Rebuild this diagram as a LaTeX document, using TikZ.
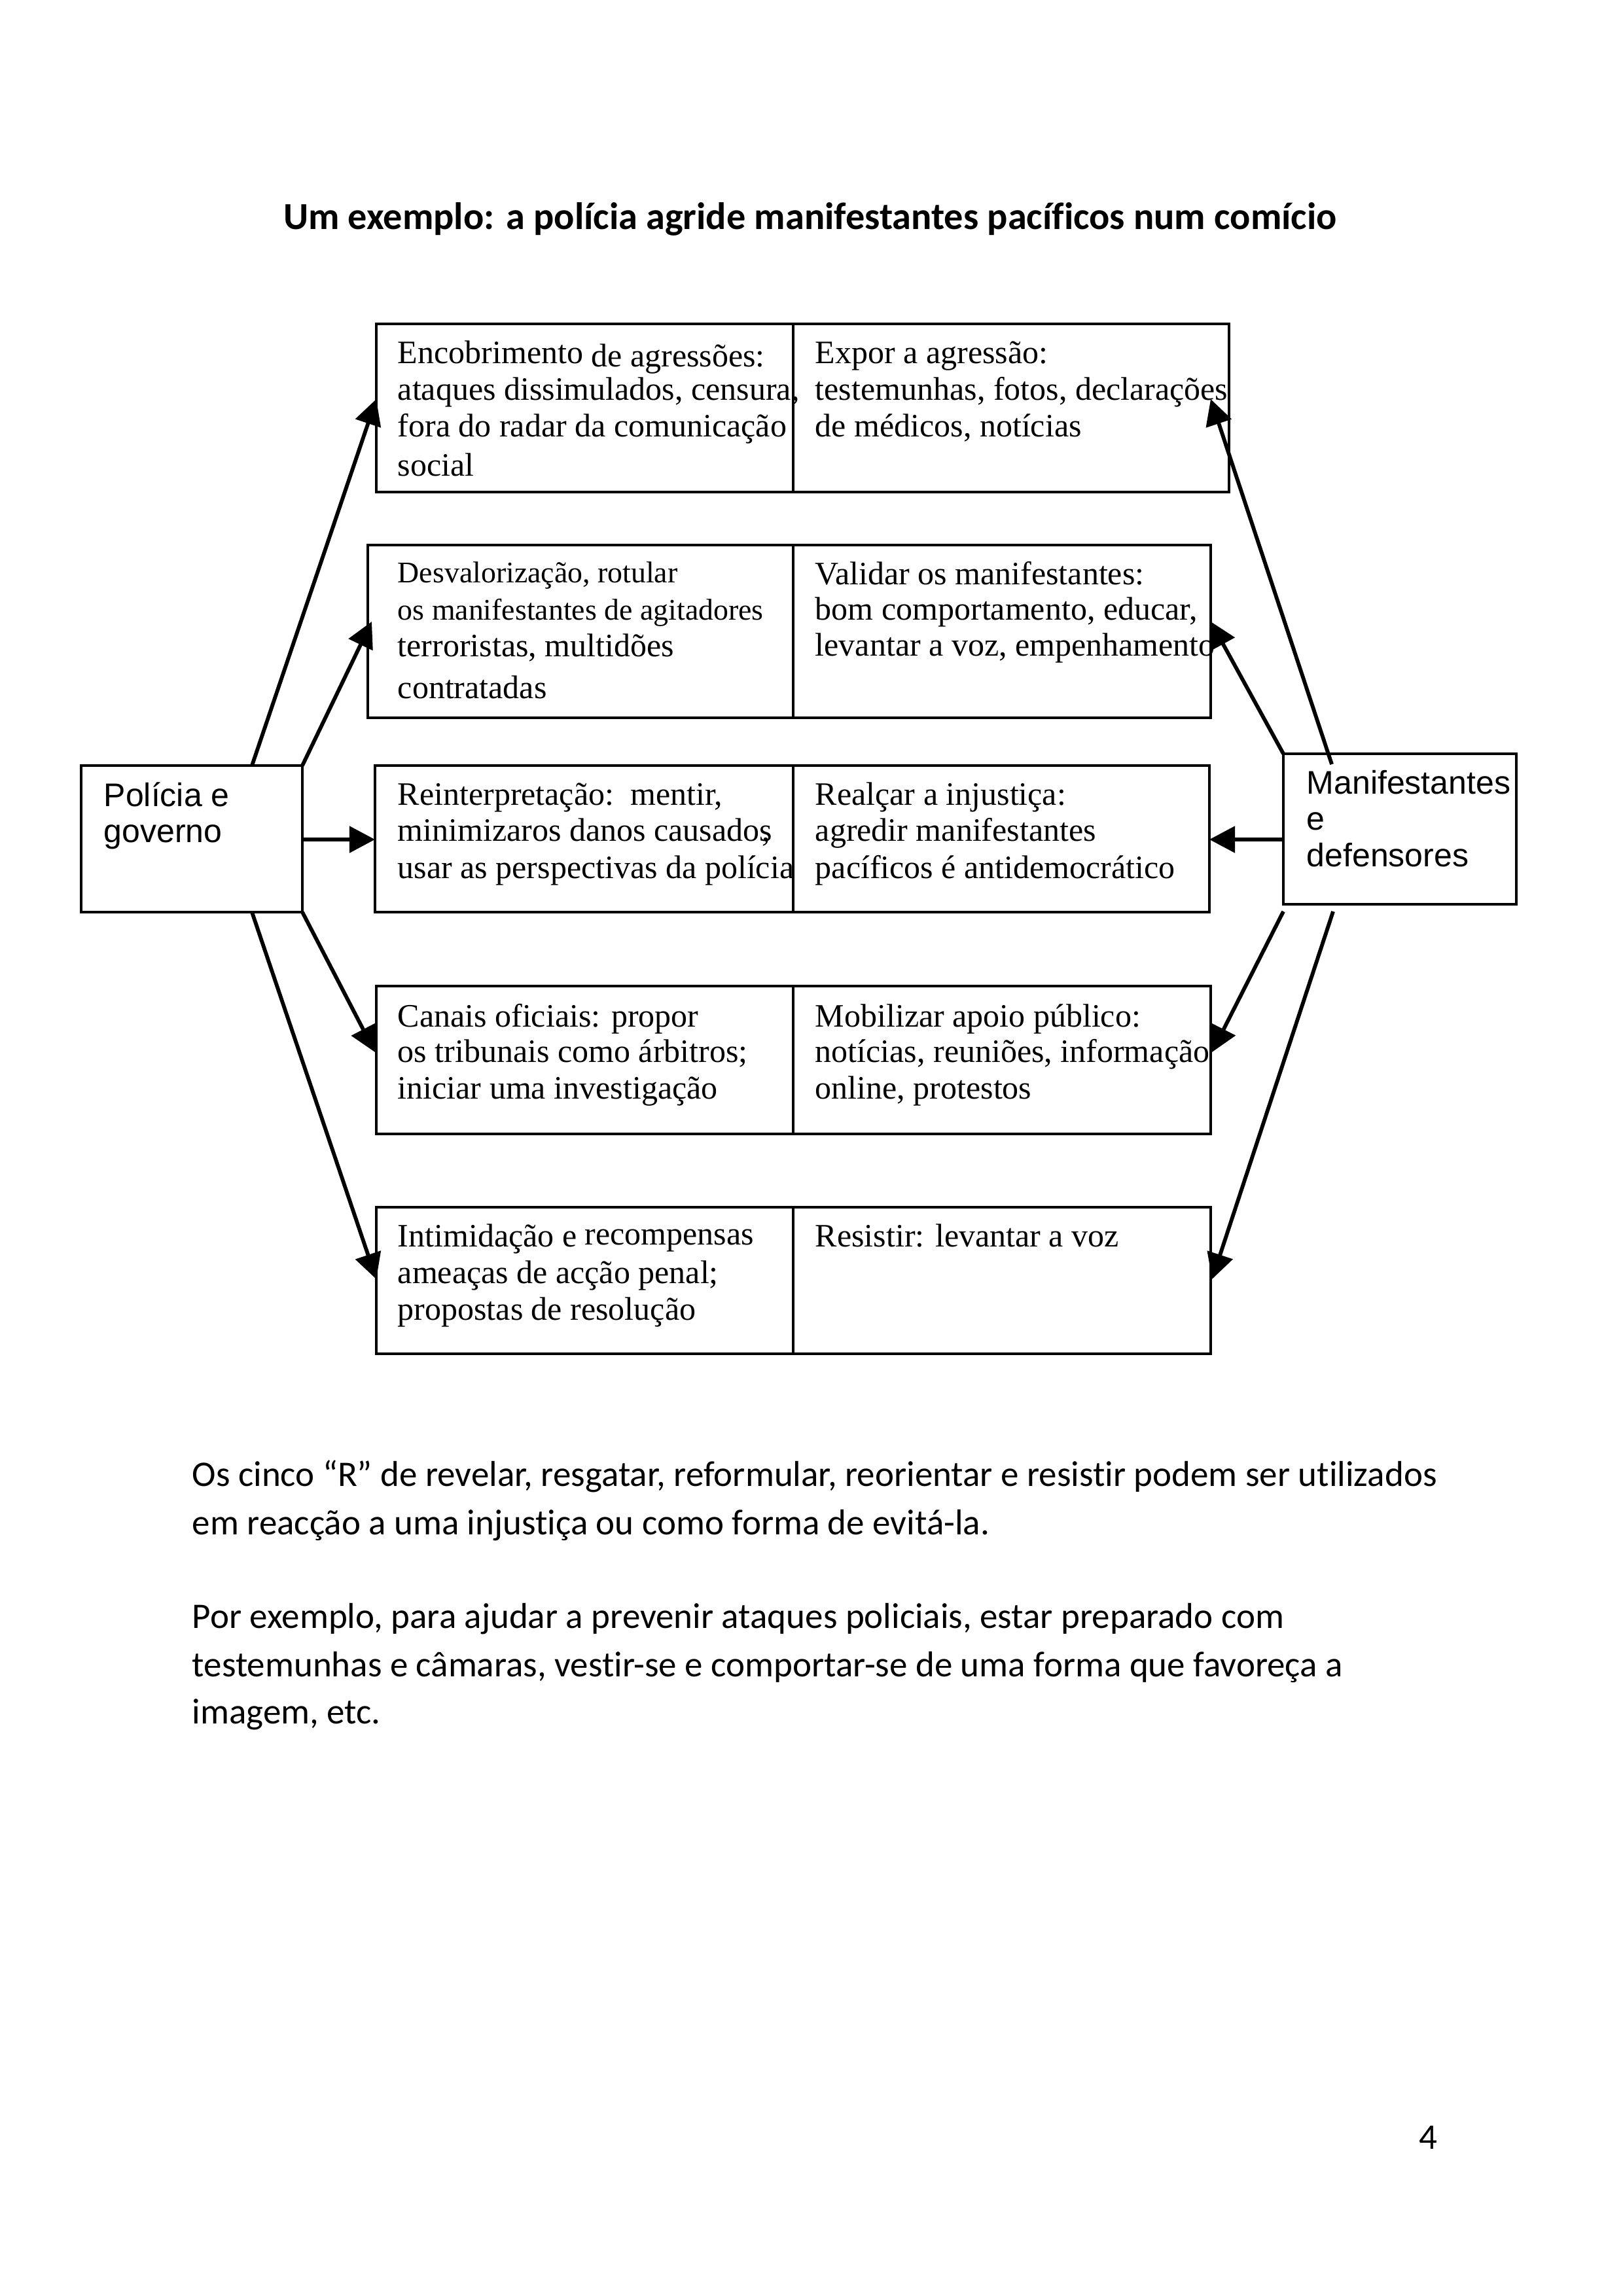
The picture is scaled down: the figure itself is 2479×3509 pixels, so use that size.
\documentclass[tikz,border=0pt]{standalone}
\usepackage{fontspec}
\setmainfont{Liberation Serif}
\newfontfamily\calfont[Ligatures=NoCommon]{Carlito}
\newfontfamily\arialfont{Liberation Sans}
\usetikzlibrary{arrows.meta,fit}
\begin{document}
\begin{tikzpicture}[x=0.24pt,y=-0.24pt,
 boxst/.style={draw,line width=1pt,inner sep=0pt},
 divline/.style={line width=0.8pt},
 arr/.style={line width=1.4pt,-{Triangle[length=9.4pt,width=9.6pt]}},
 txt/.style={anchor=base west,inner sep=0pt,font=\fontsize{12}{14}\selectfont},
 stxt/.style={anchor=base west,inner sep=0pt,font=\fontsize{11}{13}\selectfont},
 lab/.style={anchor=base west,inner sep=0pt,font=\arialfont\fontsize{12}{14}\selectfont},
 body/.style={anchor=base west,inner sep=0pt,font=\calfont\fontsize{13.2}{15}\selectfont},
 ttl/.style={anchor=base,inner sep=0pt,font=\calfont\bfseries\fontsize{14}{16}\selectfont}]
\useasboundingbox[fill=white] (0,0) rectangle (2479,3509);

% title
\node[ttl] (title) at (1238,351) {Um exemplo: a polícia agride manifestantes pacíficos num comício};

% side boxes
\node[boxst,fit={(124,1170) (462,1394)}] (pg) {};
\node[boxst,fit={(1961,1152) (2317,1382)}] (md) {};
\node[lab] (pg1) at (158,1232) {Polícia e};
\node[lab] (pg2) at (158,1287) {governo};
\node[lab] (md1) at (1996,1213) {Manifestantes};
\node[lab] (md2) at (1996,1268) {e};
\node[lab] (md3) at (1996,1324) {defensores};

% row boxes
\node[boxst,fit={(575,495) (1878,752)}] (r1) {};
\node[boxst,fit={(562,833) (1850,1097)}] (r2) {};
\node[boxst,fit={(573,1170) (1848,1394)}] (r3) {};
\node[boxst,fit={(575,1507) (1850,1733)}] (r4) {};
\node[boxst,fit={(575,1845) (1850,2069)}] (r5) {};
\draw[divline] (1212,495) -- (1212,752);
\draw[divline] (1212,833) -- (1212,1097);
\draw[divline] (1212,1170) -- (1212,1394);
\draw[divline] (1212,1507) -- (1212,1733);
\draw[divline] (1212,1845) -- (1212,2069);

% row 1
\node[txt] (a11) at (607,556) {Encobrimento \raisebox{-1pt}{de agressões:}};
\node[txt] (a12) at (607,612) {ataques dissimulados, censura,};
\node[txt] (a13) at (607,668) {fora do radar da comunicação};
\node[txt] (a14) at (607,728) {social};
\node[txt] (b11) at (1245,556) {Expor a agressão:};
\node[txt] (b12) at (1245,612) {testemunhas, fotos, declarações};
\node[txt] (b13) at (1245,668) {de médicos, notícias};
% row 2
\node[stxt] (a21) at (607,890) {Desvalorização, rotular};
\node[stxt] (a22) at (607,947) {os manifestantes de agitadores};
\node[txt] (a23) at (607,1003) {terroristas, multidões};
\node[txt] (a24) at (607,1067) {contratadas};
\node[txt] (b21) at (1245,893) {Validar os manifestantes:};
\node[txt] (b22) at (1245,947) {bom comportamento, educar,};
\node[txt] (b23) at (1245,1002) {levantar a voz, empenhamento};
% row 3
\node[txt] (a31) at (607,1230) {Reinterpretação:\ \ mentir,};
\node[txt] (a32) at (607,1285) {minimizaros danos causados\kern-0.3em,};
\node[txt] (a33) at (607,1342) {usar as perspectivas da polícia};
\node[txt] (b31) at (1245,1230) {Realçar a injustiça:};
\node[txt] (b32) at (1245,1285) {agredir manifestantes};
\node[txt] (b33) at (1245,1342) {pacíficos é antidemocrático};
% row 4
\node[txt] (a41) at (607,1569) {Canais oficiais: propor};
\node[txt] (a42) at (607,1623) {os tribunais como árbitros;};
\node[txt] (a43) at (607,1679) {iniciar uma investigação};
\node[txt] (b41) at (1245,1569) {Mobilizar apoio público:};
\node[txt] (b42) at (1245,1623) {notícias, reuniões, informação};
\node[txt] (b43) at (1245,1679) {online, protestos};
% row 5
\node[txt] (a51) at (607,1905) {Intimidação e \raisebox{0.5pt}{recompensas}};
\node[txt] (a52) at (607,1961) {ameaças de acção penal;};
\node[txt] (a53) at (607,2017) {propostas de resolução};
\node[txt] (b51) at (1245,1905) {Resistir: levantar a voz};

% connector end points
\coordinate (pgA) at (385,1170);
\coordinate (pgB) at (462,1170);
\coordinate (pgC) at (462,1283);
\coordinate (pgD) at (462,1394);
\coordinate (pgE) at (385,1394);
\coordinate (mdA) at (2035,1168);
\coordinate (mdB) at (1961,1152);
\coordinate (mdC) at (1961,1283);
\coordinate (mdD) at (1961,1393);
\coordinate (mdE) at (2037,1393);
\coordinate (r1L) at (575,610);
\coordinate (r2L) at (568,950);
\coordinate (r3L) at (573,1283);
\coordinate (r4L) at (573,1608);
\coordinate (r5L) at (575,1955);
\coordinate (r1R) at (1850,610);
\coordinate (r2R) at (1850,950);
\coordinate (r3R) at (1848,1283);
\coordinate (r4R) at (1852,1608);
\coordinate (r5R) at (1852,1955);

\draw[arr] (pgA) -- (r1L);
\draw[arr] (pgB) -- (r2L);
\draw[arr] (pgC) -- (r3L);
\draw[arr] (pgD) -- (r4L);
\draw[arr] (pgE) -- (r5L);
\draw[arr] (mdA) -- (r1R);
\draw[arr] (mdB) -- (r2R);
\draw[arr] (mdC) -- (r3R);
\draw[arr] (mdD) -- (r4R);
\draw[arr] (mdE) -- (r5R);

% body text
\node[body] (p1) at (293,2271) {Os cinco “R” de revelar, resgatar, reformular, reorientar e resistir podem ser utilizados};
\node[body] (p2) at (293,2345) {em reacção a uma injustiça ou como forma de evitá-la.};
\node[body] (p3) at (293,2488) {Por exemplo, para ajudar a prevenir ataques policiais, estar preparado com};
\node[body] (p4) at (293,2562) {testemunhas e câmaras, vestir-se e comportar-se de uma forma que favoreça a};
\node[body] (p5) at (293,2634) {imagem, etc.};
\node[body] (pn) at (2168,3284) {4};
\end{tikzpicture}
\end{document}
